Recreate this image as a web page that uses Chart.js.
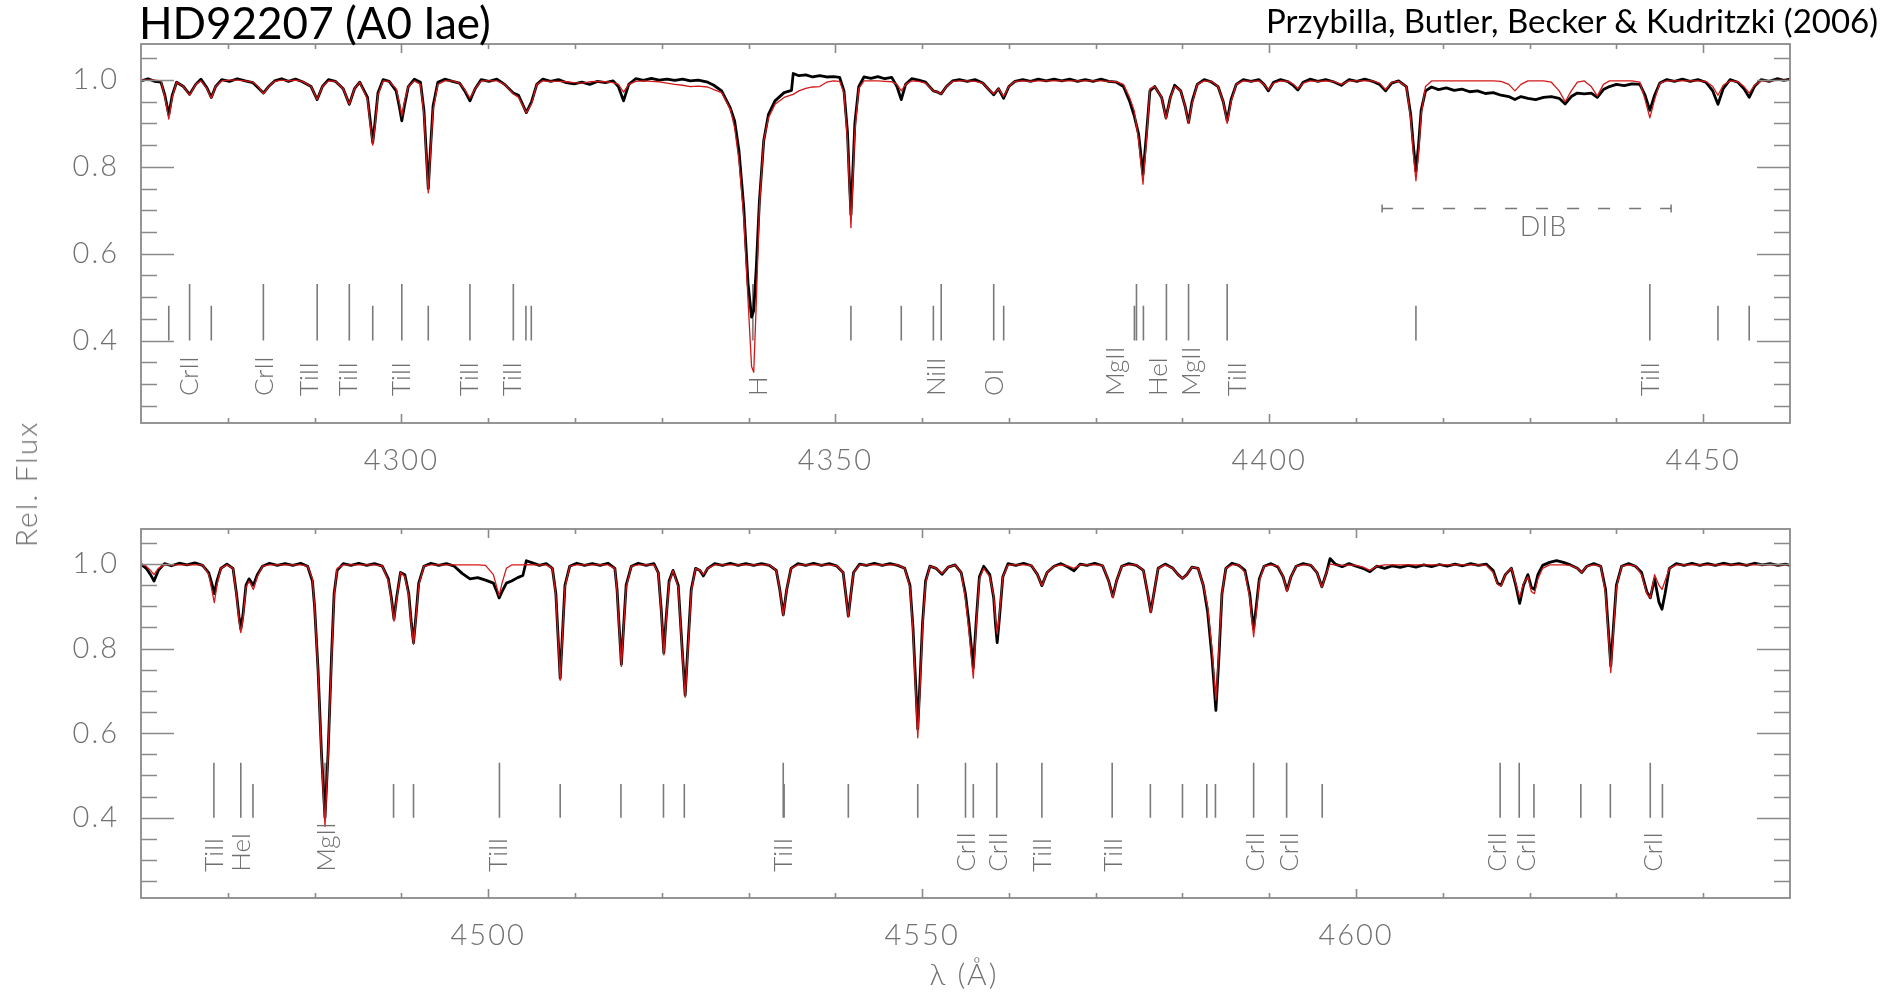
<!DOCTYPE html>
<html><head><meta charset="utf-8">
<script src="https://cdn.jsdelivr.net/npm/chart.js@4.4.1/dist/chart.umd.min.js"></script>
<style>
html,body{margin:0;padding:0;background:#fff;}
#page{position:relative;width:1880px;height:994px;overflow:hidden;background:#fff;font-family:Lato,"DejaVu Sans",sans-serif;}
canvas{position:absolute;left:0;}
#c1{top:0;}
#c2{top:490px;}
.t{position:absolute;white-space:nowrap;}
#title{left:139px;top:0;font-size:44px;line-height:44px;color:#000;}
#auth{right:2px;top:4px;font-size:33px;line-height:33px;color:#000;}
#ylab{left:25px;top:484px;font-size:30px;line-height:30px;color:#707070;font-weight:300;letter-spacing:2px;transform:translate(-50%,-50%) rotate(-90deg);}
#xlab{left:964px;top:973px;font-size:30px;line-height:30px;color:#707070;font-weight:300;letter-spacing:2px;transform:translate(-50%,-50%);}
</style></head>
<body><div id="page">
<canvas id="c1" width="1880" height="490"></canvas>
<canvas id="c2" width="1880" height="504"></canvas>
<div class="t" id="title">HD92207 (A0 Iae)</div>
<div class="t" id="auth">Przybilla, Butler, Becker &amp; Kudritzki (2006)</div>
<div class="t" id="ylab">Rel. Flux</div>
<div class="t" id="xlab">λ (Å)</div>
</div>
<script>
// ---------------- DATA ----------------
// Upper panel: wavelength (Å), observed flux, model flux
const topWave = [
4270.0,4270.8,4271.6,4272.3,
4272.75,4273.2,4273.6,4274.1,
4274.9,4275.6,4276.3,4276.9,
4277.6,4278.1,4278.6,4279.3,4280.2,4281.1,4282.0,4282.9,
4283.5,4284.1,4284.7,4285.4,4286.2,4287.0,4287.8,4288.6,
4289.6,4290.3,4290.9,4291.6,4292.4,
4293.3,4294.0,4294.6,4295.2,
4296.1,4296.45,4296.7,4296.95,4297.3,4297.9,4298.6,
4299.4,4299.8,4300.05,4300.35,4300.8,4301.5,4302.2,
4302.6,4302.85,4303.1,4303.35,4303.65,4304.2,4305.0,4305.9,4306.7,
4307.3,4307.9,4308.5,4309.2,4310.1,4311.0,4311.9,
4312.9,4313.5,4314.4,4315.0,4315.6,4316.3,4317.2,4318.1,4319.0,4319.9,4320.8,4321.7,4322.6,4323.5,4324.4,
4325.0,4325.6,4326.2,4327.0,4327.9,4328.8,4329.7,4330.6,4331.5,4332.4,4333.3,4334.2,
4335.3,4336.0,4336.9,4337.9,4338.4,4338.9,4339.45,4339.95,4340.35,4340.6,4340.9,4341.25,4341.75,4342.3,4343.05,4344.1,4344.95,4345.15,4345.8,4346.6,4347.4,4348.2,4349.0,4349.8,4350.5,
4351.0,4351.4,4351.6,4351.8,4352.0,4352.25,4352.7,4353.3,4354.1,4354.9,4355.7,4356.5,
4357.1,4357.6,4358.1,4358.8,4359.6,4360.4,
4361.3,4361.8,4362.2,4362.8,4363.5,4364.3,4365.2,4366.1,4367.0,
4367.6,4368.25,4368.8,4369.4,4370.0,4370.7,4371.6,4372.5,4373.4,4374.3,4375.2,4376.1,4377.0,4377.9,4378.8,4379.7,4380.6,4381.5,4382.4,
4383.2,4383.9,4384.45,4384.95,4385.45,4385.85,4386.25,4386.8,
4387.6,4388.1,4388.6,4389.1,
4389.8,4390.3,4390.7,4391.1,4391.7,4392.5,4393.3,4394.1,
4394.7,4395.15,4395.6,4396.2,4397.0,4397.9,4398.8,4399.4,4399.9,4400.5,4401.3,4402.2,4402.8,4403.3,4403.9,4404.7,4405.6,4406.5,4407.4,4408.3,4409.2,4410.1,4411.0,4411.9,4412.7,4413.4,4414.1,4414.9,
4415.8,4416.3,4416.6,4416.9,4417.2,4417.5,4418.0,
4418.7,4419.5,4420.4,4421.3,4422.2,4423.1,4424.0,4424.9,4425.8,4426.7,4427.6,4428.3,4429.0,4429.8,4430.7,4431.6,4432.5,4433.4,4434.1,4434.8,4435.5,4436.3,4437.1,4437.8,4438.5,4439.2,4440.0,4440.9,4441.8,4442.7,
4443.3,4443.85,4444.4,4445.0,4445.8,4446.7,4447.6,4448.5,4449.4,4450.3,4451.1,4451.7,4452.3,4453.1,4454.0,4454.7,4455.3,4455.9,4456.7,4457.6,4458.5,4459.3,4460.0];
const topObs = [
0.998,1.003,0.997,0.995,
0.965,0.92,0.965,0.995,
0.985,0.967,0.99,1.002,
0.982,0.96,0.985,1.001,0.997,1.003,0.998,0.994,
0.982,0.97,0.985,0.998,1.003,0.997,1.002,0.996,
0.985,0.955,0.985,1.001,0.997,
0.98,0.944,0.98,0.995,
0.96,0.9,0.856,0.9,0.97,1.001,0.997,
0.975,0.935,0.906,0.94,0.985,1.002,0.995,
0.93,0.84,0.75,0.84,0.94,0.995,1.002,0.997,0.993,
0.975,0.952,0.98,1.001,0.997,1.002,0.99,
0.97,0.965,0.925,0.95,0.99,1.002,0.997,1.001,0.994,0.991,0.995,0.99,0.997,0.994,0.998,
0.985,0.952,0.99,1.003,0.999,1.004,1.0,1.002,0.999,1.002,0.998,1.0,
0.995,0.988,0.975,0.936,0.906,0.837,0.707,0.53,0.454,0.469,0.57,0.72,0.86,0.921,0.952,0.971,0.976,1.015,1.01,1.012,1.007,1.01,1.007,1.008,1.006,
0.975,0.88,0.78,0.69,0.78,0.9,0.985,1.007,1.004,1.008,1.003,1.006,
0.985,0.955,0.99,1.003,1.0,0.995,
0.975,0.972,0.968,0.985,0.998,1.001,0.997,1.001,0.993,
0.98,0.966,0.98,0.958,0.985,0.997,1.001,0.997,1.002,0.998,1.002,0.998,1.002,0.997,1.001,0.997,1.002,0.997,0.995,
0.985,0.952,0.917,0.875,0.783,0.875,0.975,0.985,
0.96,0.913,0.96,0.988,
0.975,0.94,0.902,0.95,0.99,1.001,0.996,0.985,
0.95,0.906,0.955,0.99,1.001,0.997,1.001,0.99,0.975,0.995,1.001,0.996,0.987,0.977,0.995,1.002,0.997,1.001,0.996,0.988,1.001,0.997,1.002,0.997,0.99,0.975,0.993,0.998,
0.985,0.92,0.85,0.79,0.85,0.93,0.975,
0.984,0.978,0.982,0.976,0.979,0.973,0.975,0.969,0.971,0.965,0.962,0.955,0.962,0.958,0.955,0.96,0.962,0.958,0.945,0.962,0.97,0.968,0.97,0.96,0.978,0.985,0.99,0.987,0.991,0.99,
0.965,0.93,0.965,0.993,1.001,0.997,1.002,0.997,1.001,0.995,0.975,0.944,0.98,1.001,0.995,0.98,0.96,0.985,1.001,0.997,1.003,0.999,1.002];
const topModel = [
1.0,1.0,1.0,0.998,
0.96,0.91,0.96,0.995,
0.985,0.965,0.99,0.998,
0.98,0.958,0.985,0.998,1.0,1.0,0.998,0.995,
0.985,0.968,0.985,0.997,1.0,0.998,1.0,0.997,
0.985,0.955,0.985,0.998,0.997,
0.98,0.944,0.98,0.995,
0.955,0.89,0.85,0.89,0.965,0.998,0.997,
0.98,0.945,0.917,0.95,0.985,0.998,0.99,
0.92,0.83,0.74,0.83,0.93,0.99,0.998,0.998,0.993,
0.978,0.958,0.98,0.998,0.998,0.998,0.99,
0.968,0.96,0.925,0.945,0.99,0.998,0.997,0.997,0.996,0.994,0.993,0.996,0.997,0.996,0.994,
0.99,0.972,0.99,0.997,0.998,0.997,0.996,0.993,0.99,0.988,0.985,0.986,
0.984,0.978,0.971,0.933,0.89,0.814,0.684,0.49,0.34,0.327,0.49,0.707,0.86,0.913,0.944,0.96,0.966,0.967,0.975,0.981,0.984,0.985,0.995,0.998,0.997,
0.97,0.86,0.76,0.66,0.76,0.88,0.98,0.998,0.998,0.998,0.997,0.996,
0.99,0.975,0.99,0.998,0.997,0.993,
0.975,0.972,0.968,0.985,0.997,0.998,0.998,0.997,0.993,
0.98,0.968,0.98,0.962,0.985,0.997,0.998,0.997,0.998,0.998,0.998,0.998,0.998,0.998,0.998,0.998,0.998,0.997,0.996,
0.99,0.96,0.929,0.86,0.76,0.86,0.98,0.985,
0.96,0.91,0.96,0.985,
0.975,0.94,0.9,0.945,0.99,0.998,0.997,0.985,
0.95,0.9,0.95,0.99,0.998,0.997,0.998,0.99,0.978,0.993,0.998,0.997,0.99,0.98,0.993,0.998,0.997,0.998,0.997,0.99,0.998,0.998,0.998,0.998,0.993,0.978,0.995,0.997,
0.985,0.91,0.83,0.768,0.83,0.92,0.985,
0.998,0.998,0.998,0.998,0.998,0.998,0.998,0.998,0.998,0.997,0.99,0.975,0.99,0.998,0.998,0.998,0.995,0.975,0.95,0.975,0.995,0.998,0.985,0.963,0.99,0.998,0.998,0.998,0.998,0.995,
0.955,0.913,0.955,0.993,0.998,0.998,0.998,0.998,0.998,0.997,0.985,0.965,0.988,0.998,0.996,0.985,0.97,0.988,0.998,0.998,0.999,0.999,1.0];

// Lower panel
const botWave = [
4460.0,4460.6,4461.1,4461.5,4462.0,4462.7,4463.5,4464.4,4465.3,4466.2,4467.1,
4467.8,4468.15,4468.45,4468.75,4469.2,4469.9,4470.6,
4471.0,4471.3,4471.5,4471.75,4472.1,4472.45,4472.95,4473.4,4474.0,4474.8,4475.7,4476.6,4477.5,4478.4,4479.2,
4479.75,4480.0,4480.4,4480.8,4481.2,4481.55,4481.95,4482.25,4482.6,4483.3,4484.2,4485.1,4486.0,4486.9,4487.8,
4488.5,4488.85,4489.15,4489.45,4489.9,4490.4,4490.85,4491.15,4491.4,4491.65,4492.0,4492.6,4493.4,4494.3,4495.2,4496.1,4497.0,4497.9,4498.8,4499.7,
4500.6,4501.0,4501.27,4501.6,4502.1,4502.7,4503.4,4504.0,4504.4,4505.1,4505.9,4506.7,4507.4,
4507.8,4508.05,4508.3,4508.55,4508.85,4509.4,4510.2,4511.1,4512.0,4512.9,4513.8,4514.6,
4514.85,4515.1,4515.35,4515.6,4515.9,4516.5,4517.3,4518.2,4519.1,4519.6,
4519.95,4520.24,4520.5,4520.85,4521.3,4521.9,4522.35,4522.7,4523.0,4523.4,4523.9,4524.4,4524.8,4525.3,
4526.1,4527.0,4527.9,4528.8,4529.7,4530.6,4531.5,4532.4,4533.2,
4533.6,4534.0,4534.4,4534.9,4535.7,4536.6,4537.5,4538.4,4539.3,4540.2,
4540.9,4541.2,4541.5,4541.8,4542.1,4542.8,4543.6,4544.5,4545.4,4546.3,4547.2,4548.0,
4548.6,4548.95,4549.25,4549.5,4549.75,4550.05,4550.4,4550.9,4551.6,4552.3,4553.0,4553.8,4554.5,
4555.0,4555.4,4555.9,4556.25,4556.6,4557.1,4557.8,4558.25,4558.45,4558.65,4558.9,4559.3,4559.9,4560.8,4561.7,4562.6,
4563.3,4563.8,4564.4,4565.2,4566.0,4566.8,4567.5,4568.2,4569.0,4569.9,4570.8,
4571.5,4571.97,4572.4,4573.0,4573.8,4574.7,4575.5,4576.0,4576.35,4576.7,4577.2,4578.0,4578.9,4579.5,4580.0,4580.5,4581.1,4581.8,
4582.4,4582.9,4583.4,4583.85,4584.2,4584.55,4585.0,4585.7,4586.5,4587.2,
4587.75,4588.0,4588.2,4588.45,4588.85,4589.4,4590.2,4591.0,4591.6,4592.05,4592.5,4593.1,4593.9,4594.8,4595.5,4596.06,4596.6,4597.0,4597.6,4598.4,4599.2,4600.0,4600.8,4601.6,4602.4,
4603.3,4604.2,4605.1,4606.0,4606.9,4607.8,4608.7,4609.6,4610.5,4611.4,4612.3,4613.2,4614.1,4615.0,
4615.8,4616.3,4616.7,4617.2,4617.9,4618.4,4618.85,4619.3,4619.8,4620.2,4620.55,4620.95,4621.5,
4622.3,4623.1,4623.9,4624.7,4625.5,4626.0,4626.6,4627.4,4628.2,
4628.75,4629.05,4629.35,4629.65,4630.0,4630.6,4631.4,4632.2,4632.9,4633.5,4633.9,4634.4,4634.9,4635.25,4635.6,4636.1,
4636.9,4637.8,4638.7,4639.6,4640.5,4641.4,4642.3,4643.2,4644.1,4645.0,4645.9,4646.8,4647.7,4648.6,4649.5,4650.0];
const botObs = [
1.0,0.99,0.975,0.96,0.985,1.001,0.996,1.002,0.998,1.003,0.997,
0.98,0.955,0.93,0.96,0.99,1.0,0.99,
0.93,0.875,0.846,0.88,0.95,0.965,0.95,0.975,0.995,1.002,0.997,1.001,0.997,1.002,0.995,
0.96,0.9,0.75,0.55,0.4,0.55,0.78,0.93,0.985,1.001,0.997,1.002,0.997,1.001,0.995,
0.965,0.92,0.87,0.92,0.98,0.975,0.93,0.86,0.814,0.87,0.955,0.995,1.002,0.997,1.001,0.995,0.978,0.965,0.968,0.962,
0.955,0.935,0.92,0.935,0.955,0.96,0.968,0.973,1.008,1.003,0.997,1.001,0.99,
0.93,0.83,0.73,0.83,0.95,0.995,1.002,0.997,1.001,0.997,1.002,0.99,
0.94,0.85,0.763,0.85,0.95,0.995,1.002,0.997,1.001,0.98,
0.89,0.79,0.87,0.96,0.985,0.95,0.8,0.69,0.8,0.94,0.99,0.985,0.972,0.99,
1.001,0.997,1.002,0.997,1.001,0.997,1.001,0.997,0.985,
0.94,0.88,0.94,0.99,1.001,0.997,1.002,0.997,1.001,0.995,
0.98,0.93,0.877,0.93,0.98,1.0,0.997,1.002,0.997,1.001,0.997,0.99,
0.95,0.85,0.72,0.61,0.72,0.86,0.96,0.995,0.99,0.976,0.993,0.998,0.98,
0.929,0.86,0.755,0.87,0.97,0.995,0.975,0.92,0.86,0.814,0.87,0.97,1.001,0.997,1.002,0.996,
0.975,0.949,0.98,0.995,1.001,0.993,0.984,1.0,0.997,1.002,0.996,
0.96,0.923,0.96,0.995,1.001,0.997,0.985,0.93,0.887,0.93,0.99,1.0,0.99,0.975,0.966,0.975,0.993,0.99,
0.95,0.887,0.78,0.654,0.78,0.93,0.99,1.002,0.997,0.985,
0.93,0.88,0.848,0.89,0.965,0.995,1.001,0.993,0.97,0.938,0.97,0.995,1.001,0.997,0.98,0.946,0.98,1.013,1.0,0.994,1.001,0.995,0.99,0.982,0.995,
0.99,0.996,0.992,0.997,0.993,0.998,0.994,0.999,0.995,1.0,0.996,1.001,0.997,1.0,
0.985,0.955,0.95,0.975,0.99,0.95,0.907,0.95,0.975,0.945,0.94,0.975,0.997,
1.004,1.008,1.004,0.998,0.99,0.98,0.995,1.001,0.995,
0.94,0.85,0.759,0.85,0.95,0.995,1.001,0.995,0.98,0.935,0.92,0.965,0.91,0.893,0.93,0.99,
1.001,0.997,1.002,0.997,1.001,0.997,1.002,0.998,1.001,0.997,1.002,0.998,1.001,0.997,1.0,0.997];
const botModel = [
1.0,0.995,0.985,0.975,0.99,0.998,0.998,0.998,0.998,0.998,0.998,
0.975,0.94,0.909,0.95,0.99,0.998,0.99,
0.925,0.865,0.838,0.87,0.945,0.96,0.94,0.97,0.995,0.998,0.998,0.998,0.998,0.998,0.995,
0.965,0.9,0.745,0.54,0.379,0.545,0.77,0.925,0.99,0.998,0.998,0.998,0.998,0.998,0.996,
0.96,0.915,0.865,0.915,0.98,0.97,0.925,0.855,0.81,0.865,0.95,0.995,0.998,0.998,0.998,0.998,0.998,0.998,0.998,0.997,
0.975,0.945,0.925,0.955,0.99,0.998,0.998,0.998,0.999,0.998,0.998,0.998,0.99,
0.925,0.825,0.725,0.825,0.945,0.995,0.998,0.998,0.998,0.998,0.998,0.99,
0.935,0.845,0.758,0.845,0.945,0.995,0.998,0.998,0.998,0.98,
0.885,0.785,0.865,0.955,0.985,0.945,0.795,0.685,0.79,0.935,0.99,0.985,0.975,0.99,
0.998,0.998,0.998,0.998,0.998,0.998,0.998,0.998,0.985,
0.94,0.878,0.94,0.99,0.998,0.998,0.998,0.998,0.998,0.996,
0.98,0.93,0.875,0.93,0.98,0.998,0.998,0.998,0.998,0.998,0.998,0.99,
0.945,0.84,0.7,0.589,0.7,0.85,0.955,0.995,0.99,0.978,0.993,0.998,0.98,
0.915,0.84,0.73,0.86,0.965,0.99,0.97,0.925,0.87,0.834,0.88,0.97,0.998,0.998,0.998,0.997,
0.975,0.949,0.98,0.995,0.998,0.995,0.99,0.998,0.998,0.998,0.997,
0.96,0.92,0.96,0.995,0.998,0.998,0.985,0.93,0.885,0.93,0.99,0.998,0.99,0.975,0.966,0.975,0.993,0.99,
0.95,0.9,0.8,0.678,0.8,0.93,0.99,0.998,0.998,0.98,
0.92,0.865,0.828,0.875,0.96,0.995,0.998,0.995,0.97,0.935,0.97,0.995,0.998,0.998,0.98,0.945,0.98,1.0,0.998,0.997,0.998,0.997,0.993,0.985,0.995,
0.998,0.998,0.998,0.998,0.998,0.998,0.998,0.998,0.998,0.998,0.998,0.998,0.998,0.997,
0.98,0.952,0.948,0.975,0.99,0.955,0.92,0.955,0.97,0.935,0.93,0.965,0.99,
0.998,0.998,0.998,0.997,0.99,0.98,0.995,0.998,0.995,
0.93,0.84,0.743,0.84,0.945,0.995,0.998,0.996,0.975,0.93,0.92,0.975,0.95,0.94,0.96,0.99,
0.998,0.998,0.998,0.998,0.998,0.998,0.998,0.998,0.998,0.998,0.998,0.998,0.998,0.998,0.998,0.998];

// Line identification marks (wavelength, top of mark in flux units)
const topMarkWave = [4273.2,4275.6,4278.1,4284.1,4290.3,4294.0,4296.7,4300.05,4303.1,4307.9,4312.9,4314.35,4314.97,4340.5,4351.8,4357.6,4361.3,4362.2,4368.25,4369.4,4384.46,4384.7,4385.5,4388.15,4390.7,4395.15,4416.9,4443.85,4451.7,4455.3];
const topMarkTop  = [0.48,0.53,0.48,0.53,0.53,0.53,0.48,0.53,0.48,0.53,0.53,0.48,0.48,0.53,0.48,0.48,0.48,0.53,0.53,0.48,0.48,0.53,0.48,0.53,0.53,0.53,0.48,0.53,0.48,0.48];
const botMarkWave = [4468.4,4471.5,4472.9,4481.2,4489.1,4491.4,4501.3,4508.3,4515.3,4520.2,4522.6,4534.0,4534.1,4541.5,4549.5,4555.0,4555.9,4558.6,4563.8,4571.9,4576.3,4580.0,4582.8,4583.8,4588.2,4592.0,4596.1,4616.6,4618.8,4620.5,4625.9,4629.3,4633.9,4635.3];
const botMarkTop  = [0.53,0.53,0.48,0.53,0.48,0.48,0.53,0.48,0.48,0.48,0.48,0.53,0.48,0.48,0.48,0.53,0.48,0.53,0.53,0.53,0.48,0.48,0.48,0.48,0.53,0.53,0.48,0.53,0.53,0.48,0.48,0.48,0.53,0.48];

// Line identification labels
const topLabelWave = [4275.46,4284.1,4289.35,4293.8,4299.9,4307.76,4312.65,4341.0,4361.56,4368.25,4382.14,4387.13,4390.89,4396.28,4443.85];
const topLabelText = ['CrII','CrII','TiII','TiII','TiII','TiII','TiII','H','NiII','OI','MgII','HeI','MgII','TiII','TiII'];
const botLabelWave = [4468.34,4471.43,4481.3,4501.1,4533.97,4555.06,4558.66,4563.8,4571.9,4588.35,4592.2,4616.2,4619.5,4634.2];
const botLabelText = ['TiII','HeI','MgII','TiII','TiII','CrII','CrII','TiII','TiII','CrII','CrII','CrII','CrII','CrII'];

// Diffuse interstellar band bracket
const dibRange = [4413.0, 4446.3];
const dibLevel = 0.705;
const dibTextPos = [4431.6, 0.661];

// Axis ticks
const yRange = [0.21, 1.083];
const yLabelTicks = [0.4, 0.6, 0.8, 1.0];
const yAllTicks = [0.25,0.3,0.35,0.4,0.45,0.5,0.55,0.6,0.65,0.7,0.75,0.8,0.85,0.9,0.95,1.0,1.05];
const topRange = [4270, 4460];
const botRange = [4460, 4650];
const topLabelTicksX = [4300, 4350, 4400, 4450];
const botLabelTicksX = [4500, 4550, 4600];
const topAllTicksX = [4280,4290,4300,4310,4320,4330,4340,4350,4360,4370,4380,4390,4400,4410,4420,4430,4440,4450];
const botAllTicksX = [4470,4480,4490,4500,4510,4520,4530,4540,4550,4560,4570,4580,4590,4600,4610,4620,4630,4640];

// ---------------- STYLE ----------------
const TXT = '#707070';
const AXC = '#8a8a8a';
const MARK_BASE = 0.40;
const LABEL_BASE = 0.272;

[[topWave,topObs,topModel],[botWave,botObs,botModel]].forEach(a=>{
  if (a[0].length!==a[1].length || a[0].length!==a[2].length) throw new Error('length mismatch '+a.map(x=>x.length).join(','));
});
if (topMarkWave.length!==topMarkTop.length || botMarkWave.length!==botMarkTop.length) throw new Error('mark mismatch');

const isMajor = (v, list) => list.some(m => Math.abs(m - v) < 1e-6);

const framePlugin = {
  id: 'frame',
  beforeDraw(chart){ try { chart.ctx.letterSpacing = '2px'; } catch(e){} },
  afterDraw(chart){
    const {ctx, chartArea:a, scales:{x, y}} = chart;
    const o = chart.options.plugins.frame;
    ctx.save();
    ctx.letterSpacing = '0px';
    ctx.strokeStyle = AXC; ctx.lineWidth = 1.8;
    ctx.strokeRect(a.left, a.top, a.right - a.left, a.bottom - a.top);
    ctx.lineWidth = 1.6;
    ctx.beginPath();
    yAllTicks.forEach(v => {
      const py = Math.round(y.getPixelForValue(v)) + 0.5;
      const L = isMajor(v, yLabelTicks) ? 33 : 16;
      ctx.moveTo(a.left, py); ctx.lineTo(a.left + L, py);
      ctx.moveTo(a.right, py); ctx.lineTo(a.right - L, py);
    });
    o.xTicks.forEach(v => {
      const px = Math.round(x.getPixelForValue(v)) + 0.5;
      const L = isMajor(v, o.xLabels) ? 9 : 5;
      ctx.moveTo(px, a.top); ctx.lineTo(px, a.top + L);
      ctx.moveTo(px, a.bottom); ctx.lineTo(px, a.bottom - L);
    });
    ctx.stroke();
    // line identification labels
    ctx.fillStyle = TXT;
    ctx.font = '300 26px Lato, "DejaVu Sans", sans-serif';
    ctx.textAlign = 'left'; ctx.textBaseline = 'alphabetic';
    const capHalf = 9.4;
    o.labW.forEach((w, i) => {
      const px = x.getPixelForValue(w), py = y.getPixelForValue(LABEL_BASE);
      ctx.save(); ctx.translate(px + capHalf, py); ctx.rotate(-Math.PI / 2);
      ctx.fillText(o.labT[i], 0, 0); ctx.restore();
    });
    if (o.dib) {
      const x0 = x.getPixelForValue(dibRange[0]), x1 = x.getPixelForValue(dibRange[1]);
      const py = Math.round(y.getPixelForValue(dibLevel)) + 0.5;
      ctx.strokeStyle = '#777'; ctx.lineWidth = 1.5;
      ctx.beginPath();
      ctx.moveTo(x0, py - 4); ctx.lineTo(x0, py + 4);
      ctx.moveTo(x1, py - 4); ctx.lineTo(x1, py + 4);
      ctx.moveTo(x0, py); ctx.lineTo(x0 + 10, py);
      ctx.moveTo(x1 - 10, py); ctx.lineTo(x1, py);
      ctx.stroke();
      ctx.setLineDash([12, 19]); ctx.lineDashOffset = -20;
      ctx.beginPath(); ctx.moveTo(x0 + 10, py); ctx.lineTo(x1 - 10, py); ctx.stroke();
      ctx.setLineDash([]);
      ctx.font = '300 27px Lato, "DejaVu Sans", sans-serif';
      ctx.textAlign = 'center'; ctx.textBaseline = 'middle';
      ctx.letterSpacing = '1px';
      ctx.fillText('DIB', x.getPixelForValue(dibTextPos[0]), y.getPixelForValue(dibTextPos[1]));
    }
    ctx.restore();
  }
};

function makePanel(id, wave, obs, model, markW, markTop, labW, labT, range, xLabels, xTicks, padTop, axisH, padBottom, dib) {
  const obsData = wave.map((w, i) => ({x: w, y: obs[i]}));
  const modData = wave.map((w, i) => ({x: w, y: model[i]}));
  const markData = [];
  markW.forEach((w, i) => { markData.push({x: w, y: MARK_BASE}, {x: w, y: markTop[i]}, {x: w, y: null}); });
  const tickFont = {family: 'Lato, "DejaVu Sans", sans-serif', size: 29, weight: '300'};
  return new Chart(document.getElementById(id), {
    type: 'line',
    data: {datasets: [
      {data: markData, borderColor: '#7a7a7a', borderWidth: 1.6, pointRadius: 0, spanGaps: false, order: 3},
      {data: obsData, borderColor: '#000000', borderWidth: 2.8, pointRadius: 0, order: 2},
      {data: modData, borderColor: '#d21818', borderWidth: 1.3, pointRadius: 0, order: 1}
    ]},
    options: {
      responsive: false, animation: false, devicePixelRatio: 1,
      layout: {padding: {left: 0, right: 90, top: padTop, bottom: padBottom}},
      elements: {line: {tension: 0, borderJoinStyle: 'round'}, point: {radius: 0}},
      plugins: {legend: {display: false}, tooltip: {enabled: false},
        frame: {xTicks: xTicks, xLabels: xLabels, labW: labW, labT: labT, dib: dib}},
      scales: {
        x: {type: 'linear', min: range[0], max: range[1],
            grid: {display: false}, border: {display: false},
            ticks: {color: TXT, font: tickFont, padding: 12, maxRotation: 0, autoSkip: false, callback: v => String(v)},
            afterBuildTicks: s => { s.ticks = xLabels.map(v => ({value: v})); },
            afterFit: s => { s.height = axisH; }},
        y: {type: 'linear', min: yRange[0], max: yRange[1],
            grid: {display: false}, border: {display: false},
            ticks: {color: TXT, font: tickFont, padding: 14, callback: v => Number(v).toFixed(1)},
            afterBuildTicks: s => { s.ticks = yLabelTicks.map(v => ({value: v})); },
            afterFit: s => { s.width = 141; }}
      }
    },
    plugins: [framePlugin]
  });
}

makePanel('c1', topWave, topObs, topModel, topMarkWave, topMarkTop, topLabelWave, topLabelText, topRange, topLabelTicksX, topAllTicksX, 44, 60, 7, true);
makePanel('c2', botWave, botObs, botModel, botMarkWave, botMarkTop, botLabelWave, botLabelText, botRange, botLabelTicksX, botAllTicksX, 39, 90, 6, false);
</script>
</body></html>
